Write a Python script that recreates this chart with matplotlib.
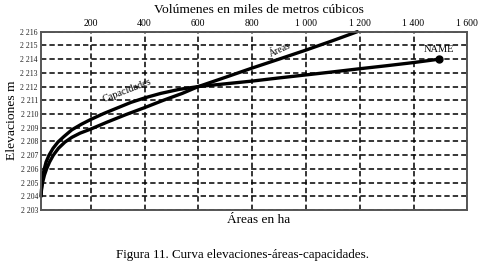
import matplotlib
matplotlib.use("Agg")
import matplotlib.pyplot as plt

# Data
cap_x = [15, 17, 20, 26, 34, 45, 60, 78, 100, 130, 165, 200, 250, 300, 350, 405, 460, 530, 600, 700, 800, 900, 1000, 1100, 1200, 1300, 1400, 1496]
cap_y = [2204, 2204.6, 2205.2, 2205.9, 2206.5, 2207.0, 2207.5, 2207.95, 2208.35, 2208.85, 2209.25, 2209.6, 2210.05, 2210.45, 2210.85, 2211.2, 2211.5, 2211.8, 2212.0, 2212.2, 2212.4, 2212.63, 2212.85, 2213.07, 2213.3, 2213.52, 2213.75, 2214.0]

area_x = [15, 17, 21, 28, 36, 47, 61, 80, 104, 130, 160, 200, 260, 330, 405, 470, 540, 600, 700, 800, 900, 1000, 1100, 1191]
area_y = [2204, 2204.5, 2205, 2205.55, 2206, 2206.5, 2207, 2207.5, 2207.95, 2208.3, 2208.6, 2208.9, 2209.4, 2209.95, 2210.5, 2211.0, 2211.5, 2212, 2212.67, 2213.35, 2214.0, 2214.66, 2215.35, 2216]

x_ticks = [200, 400, 600, 800, 1000, 1200, 1400, 1600]
x_tick_labels = ["200", "400", "600", "800", "1 000", "1 200", "1 400", "1 600"]
y_ticks = list(range(2203, 2217))
y_tick_labels = ["2 %d" % (v - 2000) for v in y_ticks]

end_label = "NAME"

plt.rcParams['font.family'] = ['Liberation Serif', 'DejaVu Serif']

fig = plt.figure(figsize=(4.88, 2.68), dpi=100)
ax = fig.add_axes([0.0834, 0.2164, 0.8742, 0.6653])

ax.plot(cap_x, cap_y, color='black', lw=2.4, solid_capstyle='round', solid_joinstyle='round')
ax.plot(area_x, area_y, color='black', lw=2.4, solid_capstyle='round', solid_joinstyle='round', clip_on=False)
ax.plot([cap_x[-1]], [cap_y[-1]], 'o', color='black', ms=5)
ax.text(cap_x[-1], cap_y[-1] + 0.4, end_label, ha='center', va='bottom', fontsize=7.5)

ax.text(335, 2211.7, "Capacidades", rotation=21, ha='center', va='center', fontsize=7.3)
ax.text(905, 2214.7, "Áreas", rotation=25, ha='center', va='center', fontsize=7)

ax.set_xlim(14, 1600)
ax.set_ylim(2203, 2216)
ax.xaxis.tick_top()
ax.set_xticks(x_ticks)
ax.set_xticklabels(x_tick_labels, fontsize=7)
ax.set_yticks(y_ticks)
ax.set_yticklabels(y_tick_labels, fontsize=5.6, color='#222222')
ax.tick_params(axis='both', length=0, pad=2)
ax.tick_params(axis='x', pad=3)

ax.grid(True, color='black', linestyle=(0, (3.5, 2)), linewidth=1.1)
ax.set_axisbelow(True)
for s in ax.spines.values():
    s.set_color('#555555')
    s.set_linewidth(1.4)

fig.text(259 / 488, 1 - 10 / 268, "Volúmenes en miles de metros cúbicos", ha='center', va='center', fontsize=9.7)
fig.text(12 / 488, 1 - 120 / 268, "Elevaciones m", rotation=90, ha='center', va='center', fontsize=9.7)
fig.text(259 / 488, 1 - 220 / 268, "Áreas en ha", ha='center', va='center', fontsize=9.6)
fig.text(243 / 488, 1 - 255 / 268, "Figura 11. Curva elevaciones-áreas-capacidades.", ha='center', va='center', fontsize=9.4)

fig.savefig("out.png", dpi=100)
